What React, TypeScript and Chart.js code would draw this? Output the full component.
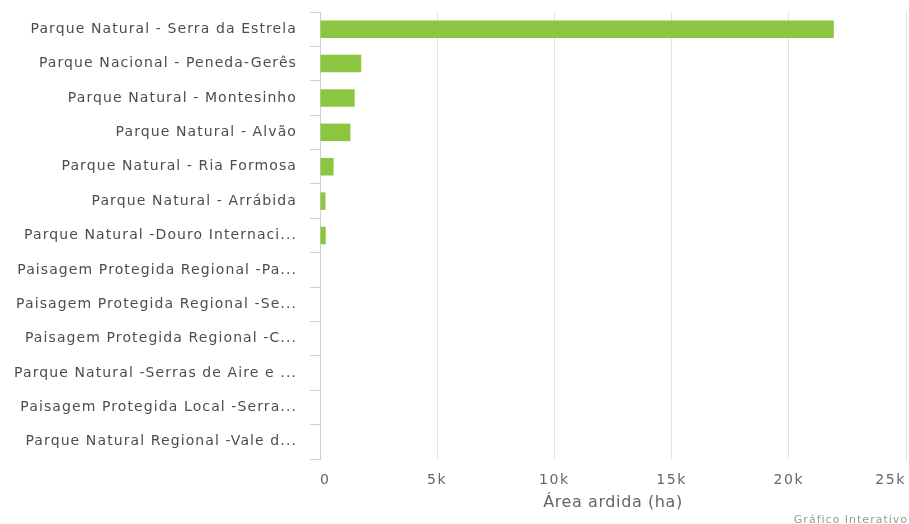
import React, { useEffect, useRef } from "react";
import { Chart, registerables } from "chart.js";

Chart.register(...registerables);

const categories = [
  "Parque Natural - Serra da Estrela",
  "Parque Nacional - Peneda-Gerês",
  "Parque Natural - Montesinho",
  "Parque Natural - Alvão",
  "Parque Natural - Ria Formosa",
  "Parque Natural - Arrábida",
  "Parque Natural -Douro Internaci...",
  "Paisagem Protegida Regional -Pa...",
  "Paisagem Protegida Regional -Se...",
  "Paisagem Protegida Regional -C...",
  "Parque Natural -Serras de Aire e ...",
  "Paisagem Protegida Local -Serra...",
  "Parque Natural Regional -Vale d...",
];

const areaArdida = [21920, 1758, 1480, 1295, 580, 235, 245, 0, 0, 0, 0, 0, 0];

const xTickValues = [0, 5000, 10000, 15000, 20000, 25000];
const xTickLabels = ["0", "5k", "10k", "15k", "20k", "25k"];

const xTitle = "Área ardida (ha)";
const creditText = "Gráfico Interativo";

const FONT = "'DejaVu Sans', Verdana, sans-serif";

export default function App() {
  const canvasRef = useRef<HTMLCanvasElement | null>(null);

  useEffect(() => {
    if (!canvasRef.current) return;
    const spacingPlugin = {
      id: "spacing",
      afterLayout(chart: any) {
        const ctx = chart.ctx;
        const wrap = (scale: any, labelSp: string, titleSp: string) => {
          if (scale.__wrapped) return;
          scale.__wrapped = true;
          const dl = scale.drawLabels.bind(scale);
          scale.drawLabels = (ca: any) => {
            ctx.save();
            (ctx as any).letterSpacing = labelSp;
            dl(ca);
            ctx.restore();
          };
          const dt = scale.drawTitle.bind(scale);
          scale.drawTitle = (ca: any) => {
            ctx.save();
            (ctx as any).letterSpacing = titleSp;
            dt(ca);
            ctx.restore();
          };
        };
        wrap(chart.scales.y, "1.1px", "0px");
        wrap(chart.scales.x, "1.6px", "0.6px");
      },
    };
    const creditPlugin = {
      id: "credit",
      afterDraw(chart: any) {
        const ctx = chart.ctx;
        ctx.save();
        (ctx as any).letterSpacing = "1px";
        ctx.font = `11px ${FONT}`;
        ctx.fillStyle = "#999999";
        ctx.textAlign = "right";
        ctx.textBaseline = "top";
        ctx.fillText(creditText, chart.width - 1, 515);
        ctx.restore();
      },
    };
    const chart = new Chart(canvasRef.current, {
      type: "bar",
      data: {
        labels: categories,
        datasets: [
          {
            data: areaArdida,
            backgroundColor: "#8cc641",
            borderWidth: 0,
            barPercentage: 0.51,
            categoryPercentage: 1,
          },
        ],
      },
      options: {
        indexAxis: "y",
        animation: false,
        responsive: false,
        maintainAspectRatio: false,
        layout: { padding: { top: 12, right: 3, bottom: 0, left: 0 } },
        plugins: {
          legend: { display: false },
          tooltip: { enabled: false },
        },
        scales: {
          x: {
            type: "linear",
            min: 0,
            max: 25000,
            afterBuildTicks(scale: any) {
              scale.ticks = xTickValues.map((v) => ({ value: v }));
            },
            afterFit(scale: any) {
              scale.height = 65;
              scale.paddingLeft = 0;
              scale.paddingRight = 0;
            },
            ticks: {
              align: "inner",
              padding: 13,
              color: "#666666",
              font: { family: FONT, size: 14 },
              callback: (v: any) => {
                const i = xTickValues.indexOf(Number(v));
                return i >= 0 ? xTickLabels[i] : "";
              },
            },
            grid: {
              color: "#e3e3e3",
              lineWidth: 1,
              drawTicks: false,
            },
            border: { display: false },
            title: {
              display: true,
              text: xTitle,
              color: "#666666",
              font: { family: FONT, size: 16 },
              padding: { top: 0, bottom: 12 },
            },
          },
          y: {
            type: "category",
            afterFit(scale: any) {
              scale.width = 320;
              scale.paddingTop = 0;
              scale.paddingBottom = 0;
            },
            ticks: {
              padding: 13,
              color: "#4d4d4d",
              font: { family: FONT, size: 14 },
              autoSkip: false,
            },
            grid: {
              offset: true,
              drawOnChartArea: false,
              drawTicks: true,
              tickLength: 10,
              color: "#d0d0d0",
            },
            border: { display: true, color: "#d0d0d0" },
          },
        },
      },
      plugins: [spacingPlugin, creditPlugin],
    } as any);
    return () => chart.destroy();
  }, []);

  return (
    <div style={{ position: "fixed", left: 0, top: 0, width: 909, height: 524, background: "#fff" }}>
      <canvas ref={canvasRef} width={909} height={524} style={{ width: 909, height: 524 }} />
    </div>
  );
}
